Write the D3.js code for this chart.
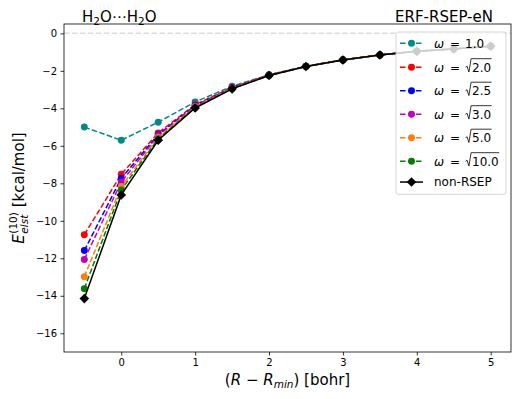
<!DOCTYPE html>
<html>
<head>
<meta charset="utf-8">
<script src="https://cdn.jsdelivr.net/npm/d3@7"></script>
<style>
body { margin: 0; background: #fff; }
text { font-family: "DejaVu Sans", sans-serif; fill: #000; white-space: pre; }
</style>
</head>
<body>
<div id="chart"></div>
<script>
// R - Rmin [bohr]
var dist = [-0.5, 0, 0.5, 1, 1.5, 2, 2.5, 3, 3.5, 4, 4.5, 5];

// E_elst^(10) [kcal/mol]
var w1_0  = [-5.00, -5.70, -4.74, -3.66, -2.82, -2.21, -1.75, -1.41, -1.15, -0.95, -0.82, -0.69];
var w2_0  = [-10.74, -7.52, -5.31, -3.80, -2.88, -2.22, -1.76, -1.41, -1.15, -0.96, -0.83, -0.69];
var w2_5  = [-11.59, -7.73, -5.40, -3.85, -2.91, -2.23, -1.76, -1.42, -1.15, -0.96, -0.83, -0.69];
var w3_0  = [-12.06, -7.93, -5.45, -3.88, -2.92, -2.24, -1.77, -1.42, -1.15, -0.96, -0.83, -0.69];
var w5_0  = [-12.98, -8.17, -5.55, -3.92, -2.94, -2.24, -1.77, -1.42, -1.15, -0.96, -0.83, -0.69];
var w10_0 = [-13.62, -8.35, -5.62, -3.95, -2.95, -2.25, -1.77, -1.42, -1.15, -0.96, -0.83, -0.69];
var nonRsep = [-14.15, -8.62, -5.70, -3.98, -2.96, -2.25, -1.77, -1.42, -1.15, -0.96, -0.83, -0.69];

var omegaLabels = ["1.0", "2.0", "2.5", "3.0", "5.0", "10.0", "non-RSEP"];
var colors = ["#008b8b", "#ff0000", "#0000ff", "#bf00bf", "#ff7f0e", "#008000", "#000000"];
var xTicks = [0, 1, 2, 3, 4, 5];
var yTicks = [-16, -14, -12, -10, -8, -6, -4, -2, 0];

var chart = {
    draw: function(config) {
        var margin = { top: 24, right: 6, bottom: 47, left: 64 },
            width = 517 - margin.left - margin.right,
            height = 399 - margin.top - margin.bottom,
            xScale = d3.scaleLinear().domain([-0.775, 5.275]).range([0, width]),
            yScale = d3.scaleLinear().domain([-17, 0.5]).range([height, 0]),
            dash = "5.55,2.4";

        var root = d3.select("#" + config.element).append("svg")
            .attr("width", 517)
            .attr("height", 399);
        var svg = root.append("g")
            .attr("transform", "translate(" + margin.left + "," + margin.top + ")");

        // zero reference
        svg.append("line")
            .attr("x1", 0).attr("x2", width)
            .attr("y1", yScale(0)).attr("y2", yScale(0))
            .attr("stroke", "#dcdcdc")
            .attr("stroke-width", 1.5)
            .attr("stroke-dasharray", dash);

        var line = d3.line()
            .x(function(d) { return xScale(d[0]); })
            .y(function(d) { return yScale(d[1]); });

        config.series.forEach(function(vals, k) {
            var pts = dist.map(function(x, i) { return [x, vals[i]]; });
            var last = k === config.series.length - 1;
            svg.append("path")
                .attr("d", line(pts))
                .attr("fill", "none")
                .attr("stroke", colors[k])
                .attr("stroke-width", 1.5)
                .attr("stroke-dasharray", last ? null : dash);
            var sym = last ? d3.symbol().type(d3.symbolSquare).size(46) : d3.symbol().type(d3.symbolCircle).size(38);
            svg.selectAll(".m" + k)
                .data(pts)
                .enter().append("path")
                .attr("d", sym)
                .attr("transform", function(d) {
                    return "translate(" + xScale(d[0]) + "," + yScale(d[1]) + ")" + (last ? " rotate(45)" : "");
                })
                .attr("fill", colors[k]);
        });

        // axes
        var xAxis = d3.axisBottom(xScale).tickValues(xTicks).tickSize(3.5).tickPadding(3.5).tickFormat(d3.format("d"));
        var yAxis = d3.axisLeft(yScale).tickValues(yTicks).tickSize(3.5).tickPadding(3.5).tickFormat(d3.format("d"));
        var gx = svg.append("g").attr("transform", "translate(0," + height + ")").call(xAxis);
        var gy = svg.append("g").call(yAxis);
        [gx, gy].forEach(function(g) {
            g.select(".domain").remove();
            g.selectAll("line").attr("stroke", "#000").attr("stroke-width", 0.8);
            g.selectAll("text").style("font-size", "10px").style("font-family", "DejaVu Sans").attr("fill", "#000");
        });
        svg.append("rect")
            .attr("width", width).attr("height", height)
            .attr("fill", "none").attr("stroke", "#000").attr("stroke-width", 0.8);

        // legend
        var lg = root.append("g");
        var lx = 396, ly = 32, lw = 110;
        var rowH = omegaLabels.map(function(l, i) { return i === 0 ? 18.5 : (i === omegaLabels.length - 1 ? 12 : 17.5); });
        var centers = [], cy = ly + 11.3;
        rowH.forEach(function(h, i) {
            if (i > 0) cy += (rowH[i - 1] + h) / 2 + 6;
            centers.push(cy);
        });
        var lh = centers[centers.length - 1] + 12.3 - ly;
        lg.append("rect")
            .attr("x", lx).attr("y", ly).attr("width", lw).attr("height", lh)
            .attr("rx", 2.5)
            .attr("fill", "rgba(255,255,255,0.8)")
            .attr("stroke", "rgba(204,204,204,0.8)")
            .attr("stroke-width", 1);

        omegaLabels.forEach(function(lab, i) {
            var c = centers[i], last = i === omegaLabels.length - 1, b = c + 4.4;
            lg.append("line")
                .attr("x1", lx + 4).attr("x2", lx + 27)
                .attr("y1", c).attr("y2", c)
                .attr("stroke", colors[i]).attr("stroke-width", 1.5)
                .attr("stroke-dasharray", last ? null : dash);
            lg.append("path")
                .attr("d", last ? d3.symbol().type(d3.symbolSquare).size(46)() : d3.symbol().type(d3.symbolCircle).size(38)())
                .attr("transform", "translate(" + (lx + 15.5) + "," + c + ")" + (last ? " rotate(45)" : ""))
                .attr("fill", colors[i]);
            var tx = lx + 38;
            if (last) {
                lg.append("text").attr("x", tx).attr("y", c + 4.3).style("font-size", "12px").text(lab);
                return;
            }
            lg.append("text").attr("x", tx).attr("y", b).style("font-size", "12px").style("font-style", "italic").text("ω");
            lg.append("text").attr("x", tx + 16).attr("y", b).style("font-size", "12px").text("=");
            if (i === 0) {
                lg.append("text").attr("x", tx + 31).attr("y", b).style("font-size", "12px").text(lab);
            } else {
                var r0 = tx + 31.5;
                var num = lg.append("text").attr("x", r0 + 6.5).attr("y", b).style("font-size", "12px").text(lab);
                var nw = num.node().getComputedTextLength();
                lg.append("path")
                    .attr("d", "M" + r0 + "," + (b - 4.5) + "L" + (r0 + 1.6) + "," + (b - 5.4) +
                        "L" + (r0 + 3.4) + "," + (b + 0.3) + "L" + (r0 + 5.6) + "," + (b - 13) +
                        "L" + (r0 + 7 + nw) + "," + (b - 13))
                    .attr("fill", "none").attr("stroke", "#000").attr("stroke-width", 0.8);
            }
        });

        // titles
        var t1 = root.append("text").attr("x", 82).attr("y", 22).style("font-size", "15px");
        t1.append("tspan").text("H");
        t1.append("tspan").attr("dy", 3).style("font-size", "10.5px").text("2");
        t1.append("tspan").attr("dy", -3).text("O⋯H");
        t1.append("tspan").attr("dy", 3).style("font-size", "10.5px").text("2");
        t1.append("tspan").attr("dy", -3).text("O");
        root.append("text").attr("x", 493).attr("y", 22).attr("text-anchor", "end")
            .style("font-size", "15px").text("ERF-RSEP-eN");

        // x label
        var xl = root.append("text").attr("x", margin.left + width / 2).attr("y", 385)
            .attr("text-anchor", "middle").style("font-size", "15px");
        xl.append("tspan").text("(");
        xl.append("tspan").style("font-style", "italic").text("R");
        xl.append("tspan").text(" − ");
        xl.append("tspan").style("font-style", "italic").text("R");
        xl.append("tspan").attr("dy", 3).style("font-style", "italic").style("font-size", "10.5px").text("min");
        xl.append("tspan").attr("dy", -3).text(") [bohr]");

        // y label
        var yl = root.append("g").attr("transform", "translate(24," + (margin.top + height / 2) + ") rotate(-90)");
        var e = yl.append("text").attr("x", 0).attr("y", 0).style("font-size", "15px").style("font-style", "italic").text("E");
        var ew = e.node().getComputedTextLength() + 0.5;
        var sup = yl.append("text").attr("x", ew).attr("y", -7).style("font-size", "10.5px").text("(10)");
        var sub = yl.append("text").attr("x", ew).attr("y", 3.5).style("font-size", "10.5px").style("font-style", "italic").text("elst");
        var sw = Math.max(sup.node().getComputedTextLength(), sub.node().getComputedTextLength());
        var rest = yl.append("text").attr("x", ew + sw).attr("y", 0).style("font-size", "15px").text(" [kcal/mol]");
        var total = ew + sw + rest.node().getComputedTextLength();
        yl.selectAll("text").attr("transform", "translate(" + (-total / 2) + ",0)");
    }
};

chart.draw({
    element: "chart",
    series: [w1_0, w2_0, w2_5, w3_0, w5_0, w10_0, nonRsep]
});
</script>
</body>
</html>
